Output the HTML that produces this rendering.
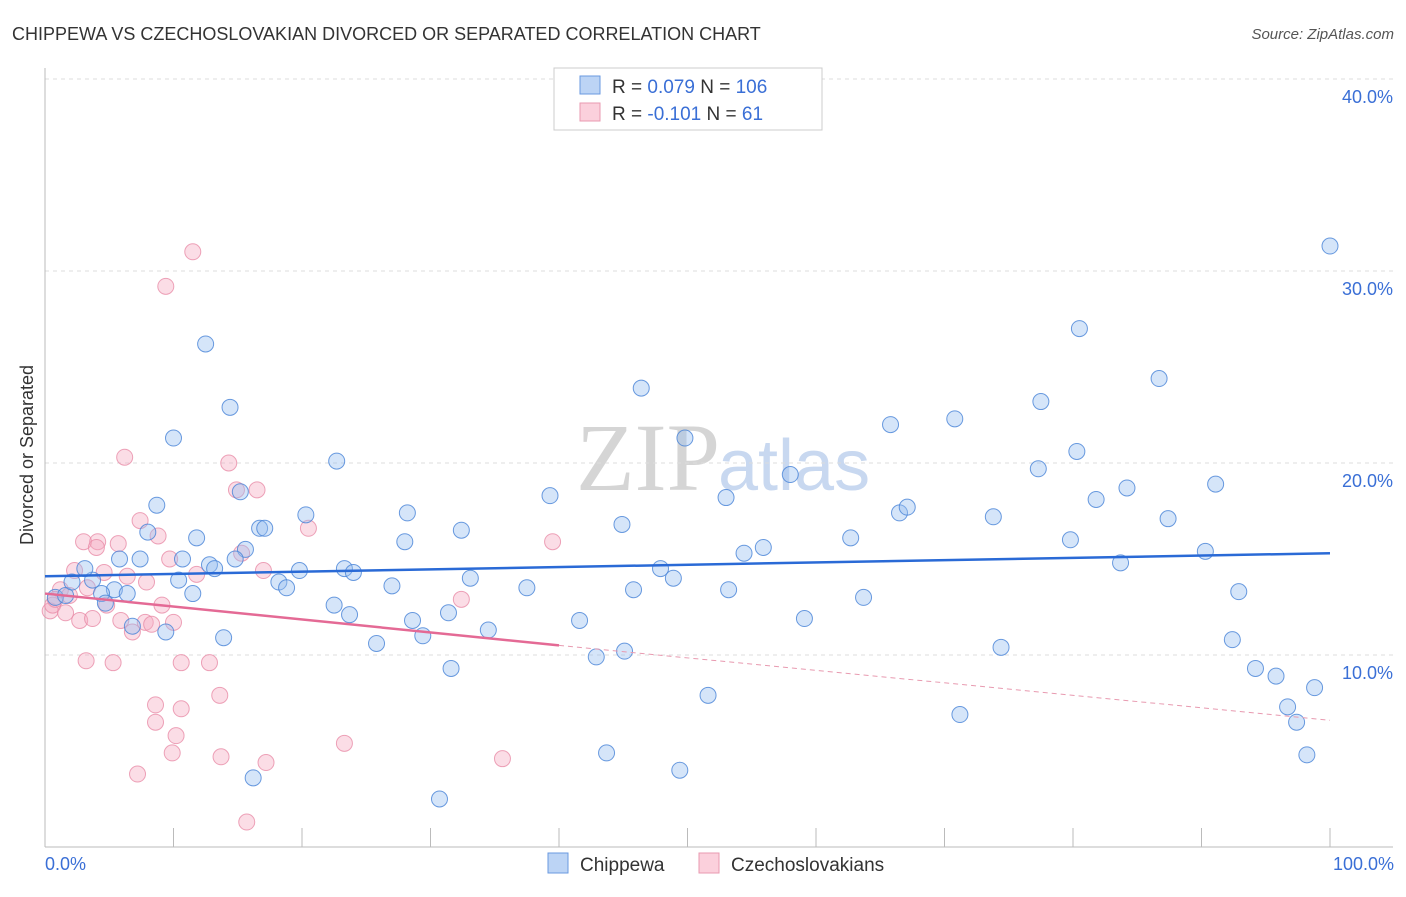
<!DOCTYPE html>
<html><head><meta charset="utf-8"><style>
body{margin:0;background:#fff;font-family:"Liberation Sans",sans-serif;}
</style></head><body>
<svg width="1406" height="892" xmlns="http://www.w3.org/2000/svg">
<text x="12" y="40" font-size="18" fill="#333">CHIPPEWA VS CZECHOSLOVAKIAN DIVORCED OR SEPARATED CORRELATION CHART</text>
<text x="1394" y="39" font-size="15" fill="#555" text-anchor="end" font-style="italic">Source: ZipAtlas.com</text>
<text x="720" y="490" font-size="96" fill="#d5d5d5" text-anchor="end" font-family="Liberation Serif">ZIP</text>
<text x="718" y="490" font-size="72" fill="#c8d8f0">atlas</text>
<g id="grid"></g>
<g id="axes"></g>
<g id="pts"></g>
<g id="lines"></g>
<text x="33" y="455" font-size="18" fill="#333" text-anchor="middle" transform="rotate(-90 33 455)">Divorced or Separated</text>
<text x="45" y="870" font-size="18" fill="#3a6fd6">0.0%</text>
<text x="1394" y="870" font-size="18" fill="#3a6fd6" text-anchor="end">100.0%</text>
<g>
<rect x="554" y="68" width="268" height="62" fill="#fff" stroke="#ccc"/>
<rect x="580" y="76" width="20" height="18" fill="#bcd4f5" stroke="#6a9ae0"/>
<rect x="580" y="103" width="20" height="18" fill="#fbd0dc" stroke="#e89ab0"/>
<text x="612" y="93" font-size="19" fill="#333">R = <tspan fill="#3a6fd6">0.079</tspan>   N = <tspan fill="#3a6fd6">106</tspan></text>
<text x="612" y="120" font-size="19" fill="#333">R = <tspan fill="#3a6fd6">-0.101</tspan>   N = <tspan fill="#3a6fd6">  61</tspan></text>
</g>
<g>
<rect x="548" y="853" width="20" height="20" fill="#bcd4f5" stroke="#6a9ae0"/>
<text x="580" y="871" font-size="19" fill="#333">Chippewa</text>
<rect x="699" y="853" width="20" height="20" fill="#fbd0dc" stroke="#e89ab0"/>
<text x="731" y="871" font-size="19" fill="#333">Czechoslovakians</text>
</g>
</svg>
<script>
const yTicks=[10,20,30,40];
const yTickLabels=["10.0%","20.0%","30.0%","40.0%"];
const xTicks=[10,20,30,40,50,60,70,80,90,100];
const blueX=[100,80.5,86.7,77.5,70.8,65.8,46.4,49.8,80.3,77.3,58.0,53.0,39.3,84.2,81.8,91.1,12.5,14.4,10.0,22.7,15.2,8.7,20.3,28.2,66.5,67.1,73.8,87.4,44.9,32.4,16.7,17.1,8.0,11.8,62.7,79.8,28.0,55.9,54.4,90.3,15.6,10.7,7.4,5.8,14.8,83.7,12.8,13.2,19.8,23.3,24.0,47.9,48.9,33.1,10.4,3.7,18.2,18.8,27.0,37.5,45.8,53.2,92.9,5.4,6.4,4.4,11.5,63.7,0.8,1.6,4.7,22.5,31.4,23.7,41.6,28.6,59.1,34.5,6.8,9.4,13.9,29.4,25.8,74.4,92.4,45.1,42.9,31.6,94.2,95.8,98.8,51.6,96.7,71.2,97.4,43.7,98.2,49.4,16.2,30.7,3.1,2.1];
const blueY=[31.3,27.0,24.4,23.2,22.3,22.0,23.9,21.3,20.6,19.7,19.4,18.2,18.3,18.7,18.1,18.9,26.2,22.9,21.3,20.1,18.5,17.8,17.3,17.4,17.4,17.7,17.2,17.1,16.8,16.5,16.6,16.6,16.4,16.1,16.1,16.0,15.9,15.6,15.3,15.4,15.5,15.0,15.0,15.0,15.0,14.8,14.7,14.5,14.4,14.5,14.3,14.5,14.0,14.0,13.9,13.9,13.8,13.5,13.6,13.5,13.4,13.4,13.3,13.4,13.2,13.2,13.2,13.0,13.0,13.1,12.7,12.6,12.2,12.1,11.8,11.8,11.9,11.3,11.5,11.2,10.9,11.0,10.6,10.4,10.8,10.2,9.9,9.3,9.3,8.9,8.3,7.9,7.3,6.9,6.5,4.9,4.8,4.0,3.6,2.5,14.5,13.8];
const pinkX=[11.5,9.4,6.2,14.3,14.9,16.5,7.4,8.8,20.5,39.5,3.0,4.1,4.0,5.7,9.7,15.3,2.3,4.6,6.4,17.0,11.8,7.9,1.2,3.3,4.8,9.1,32.4,2.7,3.7,5.9,7.8,8.3,10.0,6.8,3.2,5.3,10.6,12.8,8.6,13.6,8.6,10.6,10.2,9.9,13.7,17.2,23.3,35.6,7.2,15.7,0.4,0.6,0.8,1.9,1.6];
const pinkY=[31.0,29.2,20.3,20.0,18.6,18.6,17.0,16.2,16.6,15.9,15.9,15.9,15.6,15.8,15.0,15.3,14.4,14.3,14.1,14.4,14.2,13.8,13.4,13.5,12.6,12.6,12.9,11.8,11.9,11.8,11.7,11.6,11.7,11.2,9.7,9.6,9.6,9.6,7.4,7.9,6.5,7.2,5.8,4.9,4.7,4.4,5.4,4.6,3.8,1.3,12.3,12.6,12.9,13.1,12.2];
const blueTrend=[[0,14.1],[100,15.3]];
const pinkTrend=[[0,13.2],[40,10.5],[100,6.6]];
const X=v=>45+v*12.85, Y=v=>847-v*19.2;
const NS="http://www.w3.org/2000/svg";
function mk(p,t,a){const e=document.createElementNS(NS,t);for(const k in a)e.setAttribute(k,a[k]);document.getElementById(p).appendChild(e);return e;}
yTicks.forEach((t,i)=>{
 const l=mk('grid','line',{x1:45,x2:1393,y1:Y(t),y2:Y(t),stroke:'#ddd','stroke-dasharray':'4,4'});
 
 
 const tx=mk('grid','text',{x:1393,y:Y(t)+24,'font-size':18,fill:'#3a6fd6','text-anchor':'end'});
 tx.textContent=yTickLabels[i];
 
 
});
const ax=mk('axes','line',{x1:45,x2:45,y1:68,y2:847,stroke:'#bbb'});


const bx=mk('axes','line',{x1:45,x2:1393,y1:847,y2:847,stroke:'#bbb'});


xTicks.forEach(t=>{
 const l=mk('axes','line',{x1:X(t),x2:X(t),y1:828,y2:847,stroke:'#bbb'});
 
 
});
pinkX.forEach((v,i)=>{
 const c=mk('pts','circle',{cx:X(v),cy:Y(pinkY[i]),r:8,fill:'rgba(246,170,192,0.4)',stroke:'rgba(232,140,168,0.8)','stroke-width':1});
 
 
});
blueX.forEach((v,i)=>{
 const c=mk('pts','circle',{cx:X(v),cy:Y(blueY[i]),r:8,fill:'rgba(150,190,240,0.4)',stroke:'rgba(70,130,215,0.8)','stroke-width':1});
 
 
});
const bl=mk('lines','line',{x1:X(blueTrend[0][0]),y1:Y(blueTrend[0][1]),x2:X(blueTrend[1][0]),y2:Y(blueTrend[1][1]),stroke:'#2a6ad6','stroke-width':2.5});


const pl=mk('lines','line',{x1:X(pinkTrend[0][0]),y1:Y(pinkTrend[0][1]),x2:X(pinkTrend[1][0]),y2:Y(pinkTrend[1][1]),stroke:'#e46a95','stroke-width':2.5});


const pd=mk('lines','line',{x1:X(pinkTrend[1][0]),y1:Y(pinkTrend[1][1]),x2:X(pinkTrend[2][0]),y2:Y(pinkTrend[2][1]),stroke:'#e89ab0','stroke-width':1,'stroke-dasharray':'5,4'});


</script>
</body></html>
